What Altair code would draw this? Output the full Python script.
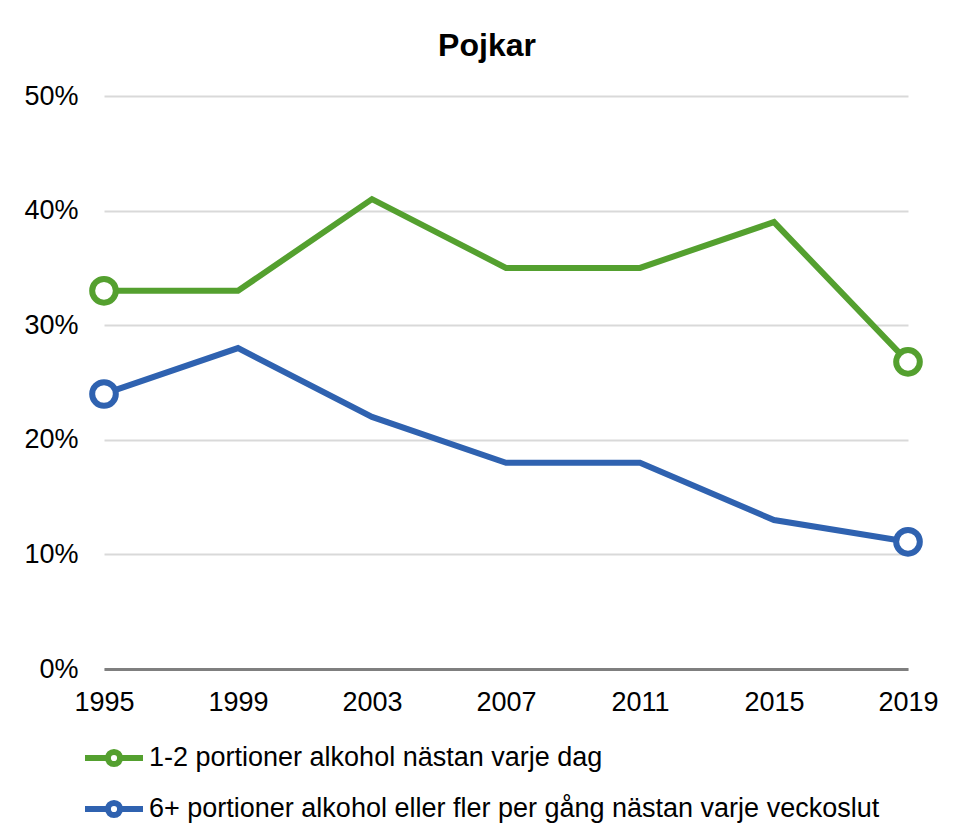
import altair as alt
import pandas as pd

years = [1995, 1999, 2003, 2007, 2011, 2015, 2019]
series_names = [
    "1-2 portioner alkohol nästan varje dag",
    "6+ portioner alkohol eller fler per gång nästan varje veckoslut",
]
green_vals = [33, 33, 41, 35, 35, 39, 26.8]
blue_vals = [24, 28, 22, 18, 18, 13, 11.1]
colors = ["#54a02f", "#2f62b0"]
y_ticks = [0, 10, 20, 30, 40, 50]

rows = []
for name, vals in zip(series_names, [green_vals, blue_vals]):
    for yr, v in zip(years, vals):
        rows.append({"year": yr, "value": v, "serie": name})
df = pd.DataFrame(rows)

FONT = "Liberation Sans"

x = alt.X("year:Q", scale=alt.Scale(domain=[min(years), max(years)], nice=False, zero=False),
          axis=alt.Axis(values=years, format="d", title=None, grid=False, ticks=False,
                        domain=True, domainColor="#7f7f7f", domainWidth=3,
                        labelFontSize=27, labelFont=FONT, labelColor="#000000",
                        labelPadding=20, labelFlush=False))
y = alt.Y("value:Q", scale=alt.Scale(domain=[0, 50], nice=False),
          axis=alt.Axis(values=y_ticks, labelExpr="datum.value + '%'", title=None,
                        ticks=False, domain=False, grid=True, gridColor="#d9d9d9",
                        gridWidth=2, labelFontSize=27, labelFont=FONT,
                        labelColor="#000000", labelPadding=26))

legend_path = ("M-1,0L-0.21,0M0.21,0L1,0M-0.21,0A0.21,0.21,0,1,1,0.21,0"
               "A0.21,0.21,0,1,1,-0.21,0Z")

color = alt.Color("serie:N", scale=alt.Scale(domain=series_names, range=colors),
                  legend=alt.Legend(title=None, orient="none", legendX=-22, legendY=630,
                                    direction="vertical", symbolType=legend_path,
                                    symbolSize=3364, symbolStrokeWidth=6,
                                    symbolFillColor="white", labelFontSize=27,
                                    labelFont=FONT, labelColor="#000000",
                                    labelOffset=3, rowPadding=-12, labelLimit=900))

lines = alt.Chart(df).mark_line(strokeWidth=6).encode(x=x, y=y, color=color)
points = alt.Chart(df).mark_point(size=560, strokeWidth=6, filled=False, fill="white",
                                  fillOpacity=1, opacity=1).encode(
    x=x, y=y, color=color
).transform_filter(
    alt.FieldOneOfPredicate(field="year", oneOf=[min(years), max(years)])
)

chart = alt.layer(lines, points).properties(
    width=804, height=573,
    title=alt.TitleParams("Pojkar", fontSize=32, font=FONT, fontWeight="bold",
                          color="#000000", anchor="middle", dx=-19, offset=19),
    autosize=alt.AutoSizeParams(type="none"),
    padding={"left": 96, "top": 88, "right": 30, "bottom": 160},
    background="white",
).configure_view(stroke=None, strokeWidth=0)

chart.save("out.html", embed_options={"renderer": "svg", "actions": False})
